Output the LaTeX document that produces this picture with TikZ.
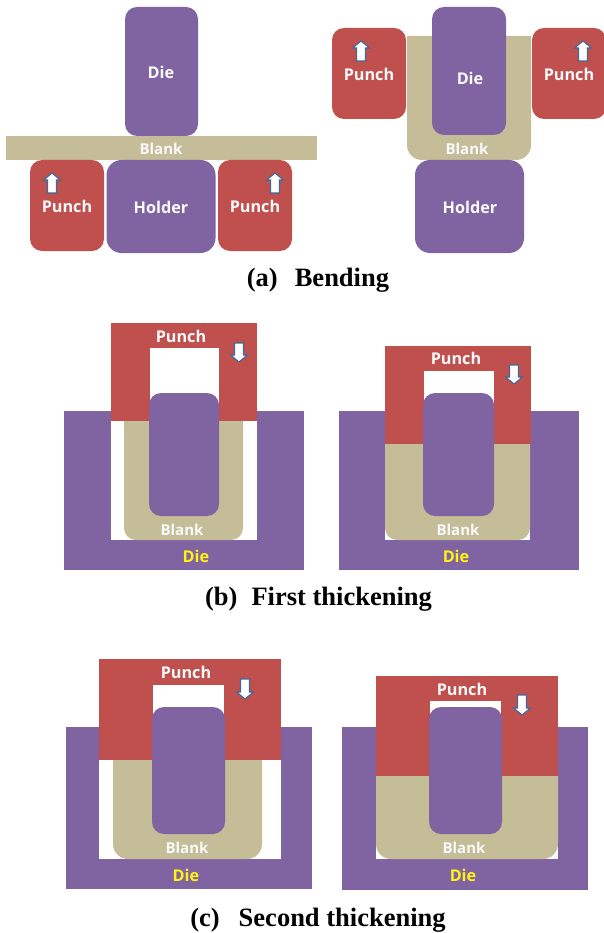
\documentclass[tikz,border=0pt]{standalone}
\usepackage{fontspec}
\setmainfont{Liberation Serif}
\newfontfamily\lbl{Open Sans}
\definecolor{pur}{HTML}{8064A2}
\definecolor{redp}{HTML}{C0504D}
\definecolor{tan}{HTML}{C4BD97}
\definecolor{arrowedge}{HTML}{41689A}
\tikzset{
  purplebox/.style={fill=pur,rounded corners=#1},
  purplebox/.default=12pt,
  redbox/.style={fill=redp,rounded corners=#1},
  redbox/.default=12pt,
  tanbox/.style={fill=tan},
  gapbox/.style={fill=white},
  lab/.style={font=\lbl\bfseries\fontsize{16.2}{18}\selectfont,text=white!96!pur,inner sep=0pt,yshift=-0.7pt},
  dielab/.style={lab,text=yellow!92!white},
  blanklab/.style={lab,font=\lbl\bfseries\fontsize{15}{17}\selectfont},
  captext/.style={font=\bfseries\fontsize{26.5}{28}\selectfont,text=black,inner sep=0pt,yshift=-2.5pt},
  arrowshape/.style={fill=white,draw=arrowedge,line width=1.1pt,line join=miter}
}
% Up arrow: centre x, top y, bottom y
\newcommand{\arrUp}[3]{\draw[arrowshape] (#1-4.5,#3) -- (#1-4.5,#2+7) -- (#1-8.4,#2+7) -- (#1,#2) -- (#1+8.4,#2+7) -- (#1+4.5,#2+7) -- (#1+4.5,#3) -- cycle;}
\newcommand{\arrDown}[3]{\draw[arrowshape] (#1-4.5,#2) -- (#1-4.5,#3-7) -- (#1-8.4,#3-7) -- (#1,#3) -- (#1+8.4,#3-7) -- (#1+4.5,#3-7) -- (#1+4.5,#2) -- cycle;}
% Blank with rounded bottom corners only: x1,y1,x2,y2,r
\newcommand{\blankU}[5]{\fill[tanbox,rounded corners=0pt] (#1,#2) -- (#3,#2) -- (#3,#4-#5) .. controls (#3,#4-#5*0.45) and (#3-#5*0.45,#4) .. (#3-#5,#4) -- (#1+#5,#4) .. controls (#1+#5*0.45,#4) and (#1,#4-#5*0.45) .. (#1,#4-#5) -- cycle;}
\begin{document}
\begin{tikzpicture}[x=1pt,y=-1pt]
\useasboundingbox[fill=white] (0,0) rectangle (604,933);
% ===== (a) left
\fill[purplebox] (125,7) rectangle (198,136);
\fill[tanbox] (5.5,136) rectangle (317,160);
\fill[redbox] (30,160) rectangle (104,251);
\fill[purplebox=15pt] (106.5,160) rectangle (215.5,253);
\fill[redbox] (218,160) rectangle (292,251);
\arrUp{52}{173}{193}
\arrUp{275}{173}{193}
\node[lab] (aldie) at (161,72) {Die};
\node[blanklab] (alblank) at (161,148) {Blank};
\node[lab] (alpl) at (67,206) {Punch};
\node[lab] (alhold) at (161,207) {Holder};
\node[lab] (alpr) at (255,206) {Punch};
% ===== (a) right
\blankU{407}{36}{531}{160}{15}
\fill[purplebox] (432,7) rectangle (506,135);
\fill[redbox] (332,28) rectangle (406,119);
\fill[redbox] (532,28) rectangle (606,119);
\fill[purplebox=15pt] (415,160) rectangle (524,253);
\arrUp{361}{41}{61}
\arrUp{583}{41}{61}
\node[lab] (ardie) at (470,78) {Die};
\node[blanklab] (arblank) at (467,148) {Blank};
\node[lab] (arpl) at (369,74) {Punch};
\node[lab] (arpr) at (569,74) {Punch};
\node[lab] (arhold) at (470,207) {Holder};
\node[captext] (capa) at (318,278) {(a)\hspace{17pt}Bending};
% ===== (b) left
\fill[pur] (64,411) rectangle (304,570);
\fill[gapbox] (111,411) rectangle (257,540);
\blankU{124}{421}{243}{540}{12}
\fill[redp] (111,323) rectangle (257,421);
\fill[gapbox] (150,348) rectangle (219,421);
\fill[purplebox] (149,393) rectangle (219,516);
\arrDown{239}{343}{362}
\node[lab] (blpunch) at (181,336) {Punch};
\node[blanklab] (blblank) at (182,529) {Blank};
\node[dielab] (bldie) at (196,556) {Die};
% ===== (b) right
\fill[pur] (339,411) rectangle (579,570);
\fill[gapbox] (385,411) rectangle (530,540);
\blankU{385}{444}{530}{540}{12}
\fill[redp] (385,346) rectangle (531,444);
\fill[gapbox] (424,371) rectangle (494,444);
\fill[purplebox] (423,393) rectangle (494,516);
\arrDown{514}{365}{384}
\node[lab] (brpunch) at (456,358) {Punch};
\node[blanklab] (brblank) at (458,529) {Blank};
\node[dielab] (brdie) at (456,556) {Die};
\node[captext] (capb) at (318.5,597) {(b)\hspace{14pt}First thickening};
% ===== (c) left
\fill[pur] (66,727) rectangle (312,889);
\fill[gapbox] (99,727) rectangle (281,859);
\blankU{113}{760}{262}{859}{15}
\fill[redp] (99,659) rectangle (281,760);
\fill[gapbox] (153,685) rectangle (224,760);
\fill[purplebox] (152,707) rectangle (225,834);
\arrDown{245}{679}{699}
\node[lab] (clpunch) at (186,672) {Punch};
\node[blanklab] (clblank) at (187,847) {Blank};
\node[dielab] (cldie) at (186,875) {Die};
% ===== (c) right
\fill[pur] (342,727) rectangle (588,890);
\fill[gapbox] (376,727) rectangle (558,859);
\blankU{376}{775}{558}{859}{15}
\fill[redp] (376,676) rectangle (558,775.5);
\fill[gapbox] (430,701) rectangle (501,775.5);
\fill[purplebox] (429,707) rectangle (502,834);
\arrDown{522}{695}{715}
\node[lab] (crpunch) at (462,689) {Punch};
\node[blanklab] (crblank) at (464,847) {Blank};
\node[dielab] (crdie) at (463,875) {Die};
\node[captext] (capc) at (318,918) {(c)\hspace{19pt}Second thickening};
\end{tikzpicture}
\end{document}
